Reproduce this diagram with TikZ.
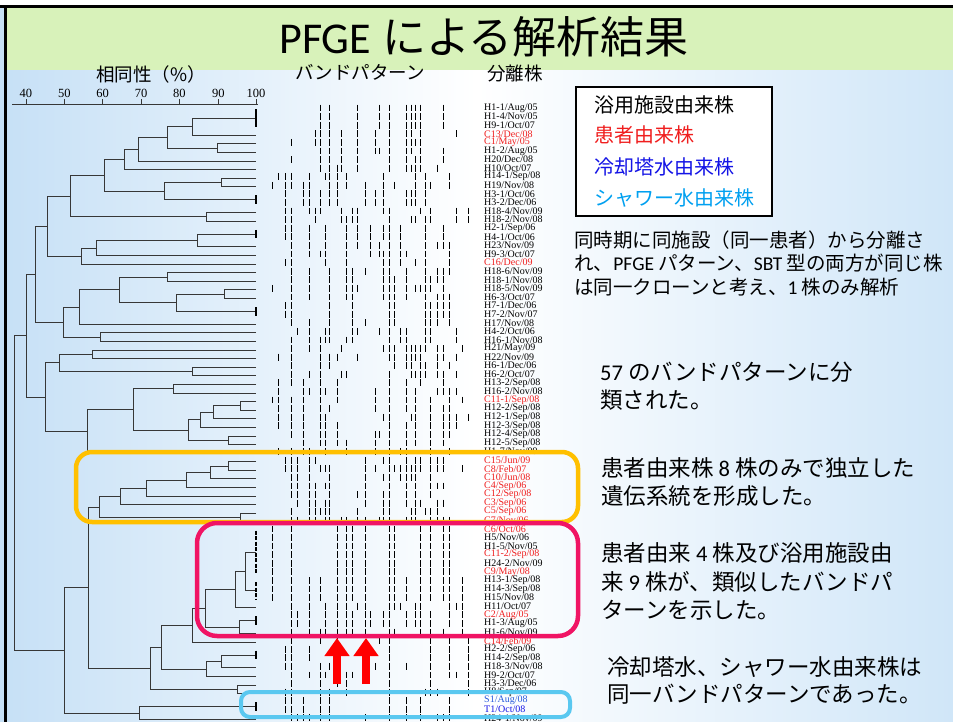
\documentclass[tikz,border=0pt]{standalone}
\usepackage{fontspec}
\setmainfont{Liberation Serif}
\newfontfamily\jp{Noto Sans CJK JP}
\newfontfamily\lat{Carlito}
\usetikzlibrary{arrows.meta}
\definecolor{labred}{RGB}{240,30,30}
\definecolor{ttblue}{RGB}{20,20,230}
\definecolor{shblue}{RGB}{0,160,240}
\definecolor{s1blue}{RGB}{40,90,220}
\definecolor{bgblue}{RGB}{198,224,246}
\definecolor{bgblueR}{RGB}{208,230,248}
\definecolor{titlegreen}{RGB}{216,242,186}
\definecolor{boxyellow}{RGB}{255,192,0}
\definecolor{boxpink}{RGB}{240,20,100}
\definecolor{boxcyan}{RGB}{90,200,240}
\definecolor{dendc}{RGB}{55,55,55}
\newcommand\hsh[2]{(sin((#1)*12.9898+(#2)*78.233)*43758.5453-floor(sin((#1)*12.9898+(#2)*78.233)*43758.5453))}
\newcommand\djn[5]{\draw[dend] (#2,#3) -- (#1,#3) -- (#1,#5) -- (#4,#5);}
\newcommand\redl{\color{labred}}
\newcommand\sbl{\color{s1blue}}
\newcommand\tbl{\color{ttblue}}
\begin{document}
\begin{tikzpicture}[x=1pt,y=-1pt,
  dend/.style={draw=dendc,line width=0.9pt},
  dtick/.style={draw=black,line width=1.6pt},
  band/.style={draw=black,line width=0.9pt},
  lab/.style={anchor=west,inner sep=0pt,font=\fontsize{10}{11}\selectfont},
  axl/.style={inner sep=0pt,font=\fontsize{12.5}{13}\selectfont},
  hdr/.style={inner sep=0pt,font=\jp\fontsize{18.5}{20}\selectfont},
  leg/.style={anchor=west,inner sep=0pt,font=\jp\fontsize{20}{22}\selectfont},
  smt/.style={anchor=west,inner sep=0pt,font=\jp\fontsize{19.5}{22}\selectfont},
  bigt/.style={anchor=west,inner sep=0pt,font=\jp\fontsize{22.5}{24}\selectfont},
  hbox/.style={line width=4.5pt,rounded corners=16pt},
  redarrow/.style={draw=red,line width=8pt,-{Triangle[width=24pt,length=18pt]}}
]
\useasboundingbox (0,0) rectangle (953,722);
% background
\shade[left color=bgblue,right color=bgblueR,middle color=white] (0,0) rectangle (953,722);
\fill[titlegreen] (7,8) rectangle (953,70);
\fill[white] (0,0) rectangle (953,5);
\fill[black] (0,5) rectangle (953,8);
\fill[black] (4,5) rectangle (7,722);

% title and headers
\node[font=\fontsize{44}{48}\selectfont,inner sep=0pt] (title) at (484,37) {{\lat PFGE} {\jp による解析結果}};
\node[hdr] (h1) at (151,74) {相同性（\%）};
\node[hdr] (h2) at (360,72.5) {バンドパターン};
\node[hdr] (h3) at (515,73.5) {分離株};

% axis
\draw[dend] (12,104.5) -- (258,104.5);
\foreach \v/\xx in {40/26,50/64.3,60/102.7,70/141,80/179.3,90/218.3,100/256}{
  \draw[dend] (\xx,99.5) -- (\xx,104.5);
  \node[axl] (ax\v) at (\xx,93.5) {\v};
}

% dendrogram
\djn{192.3}{256}{118.1}{256}{135.3}
\djn{217.3}{256}{143.9}{256}{152.5}
\djn{167.7}{192.3}{126.7}{217.3}{148.2}
\djn{138.3}{167.7}{137.45}{256}{161.0}
\djn{124.0}{138.3}{149.2}{256}{169.6}
\djn{221.3}{256}{178.2}{256}{186.8}
\djn{164.3}{221.3}{182.5}{256}{199.7}
\djn{104.3}{124}{159.4}{164.3}{191.1}
\djn{206.7}{256}{212.6}{256}{221.2}
\djn{70.7}{104.3}{175.25}{206.7}{216.9}
\djn{197.3}{256}{234.1}{256}{246.9}
\djn{96.7}{197.3}{240.5}{256}{255.5}
\djn{81.7}{96.7}{248.0}{256}{264.1}
\djn{47.7}{70.7}{196.1}{81.7}{256.05}
\djn{167.7}{256}{272.7}{256}{281.3}
\djn{224.7}{256}{289.9}{256}{298.5}
\djn{176.3}{224.7}{294.2}{256}{311.4}
\djn{119.0}{167.7}{277.0}{176.3}{302.8}
\djn{79.0}{119}{289.9}{256}{324.3}
\djn{100.0}{256}{332.9}{256}{341.4}
\djn{63.3}{79}{307.1}{100}{337.15}
\djn{35.0}{47.7}{226.1}{63.3}{322.1}
\djn{92.3}{256}{350.0}{256}{358.6}
\djn{192.3}{256}{367.2}{256}{375.8}
\djn{59.3}{92.3}{354.3}{192.3}{371.5}
\djn{173.3}{256}{384.4}{256}{393.0}
\djn{240.7}{256}{401.6}{256}{410.2}
\djn{213.3}{240.7}{405.9}{256}{418.8}
\djn{200.0}{213.3}{412.35}{256}{427.4}
\djn{228.7}{256}{436.0}{256}{444.5}
\djn{188.3}{200}{419.9}{228.7}{440.25}
\djn{133.3}{173.3}{388.7}{188.3}{430.1}
\djn{87.3}{133.3}{409.4}{256}{453.1}
\djn{45.7}{59.3}{362.9}{87.3}{431.25}
\djn{26.7}{35}{274.1}{45.7}{397.1}
\djn{228.7}{256}{461.7}{256}{470.3}
\djn{210.3}{228.7}{466.0}{256}{478.9}
\djn{186.3}{210.3}{472.45}{256}{487.5}
\djn{146.7}{186.3}{480.0}{256}{496.1}
\djn{120.0}{146.7}{488.05}{256}{504.7}
\djn{240.7}{256}{513.3}{256}{521.9}
\djn{99.3}{120}{496.4}{240.7}{517.6}
\djn{245.0}{256}{552.0}{256}{590.6}
\djn{235.7}{245}{571.3}{256}{607.8}
\djn{239.3}{256}{620.7}{256}{633.5}
\djn{205.7}{235.7}{589.55}{239.3}{627.1}
\djn{192.3}{205.7}{608.3}{256}{642.1}
\djn{221.3}{256}{655.0}{256}{667.9}
\djn{206.7}{221.3}{661.45}{256}{676.5}
\djn{161.3}{192.3}{625.2}{206.7}{669.0}
\djn{237.7}{256}{685.1}{256}{693.7}
\djn{150.7}{161.3}{647.1}{237.7}{689.4}
\djn{88.3}{99.3}{507.0}{150.7}{668.25}
\djn{139.3}{256}{706.6}{256}{719.5}
\djn{64.0}{88.3}{587.6}{139.3}{713.05}
\djn{14.0}{26.7}{335.6}{64}{650.3}
\foreach \a/\b in {109.5/126.7,195.4/204.0,229.8/238.4,307.1/315.7,616.4/625.0,650.7/659.3,702.3/710.9}
  \draw[dtick] (256,\a) -- (256,\b);
\draw[dtick,dash pattern=on 4pt off 1.5pt] (256,530.5) -- (256,573.4);
\draw[dtick,dash pattern=on 4pt off 1.5pt] (256,582) -- (256,599.2);

% band patterns
\foreach \ri/\clu/\rsd in {1/11/1,2/11/1,3/11/1,4/11/4,5/11/5,6/11/6,7/11/7,8/11/8,
  9/23/9,10/23/10,11/23/11,12/23/11,13/37/13,14/37/14,
  15/41/15,16/41/15,17/41/17,18/41/18,19/41/19,
  20/53/20,21/53/21,22/53/22,23/53/23,24/53/24,25/53/24,26/53/26,
  27/67/27,28/67/28,29/71/29,30/71/30,31/71/31,32/71/32,
  33/83/33,34/83/34,35/83/35,36/83/36,37/83/37,38/83/38,39/83/39,40/83/40,41/83/41,
  42/97/42,43/97/43,44/97/44,45/97/45,46/97/46,47/97/47,48/97/48,49/97/49,
  50/101/50,51/101/50,52/101/50,53/101/50,54/101/50,55/101/50,56/101/56,57/101/56,58/101/56,
  59/101/59,60/101/60,61/101/60,62/101/62,
  63/113/63,64/113/64,65/113/64,66/113/66,67/113/67,68/113/68,69/113/69,
  70/127/70,71/127/70,72/127/72}{
  \pgfmathsetmacro\yy{108+(\ri-1)*8.59}
  \foreach \bx/\bd [count=\j] in {272.7/.18,278/.12,285/.22,291/.65,297/.27,303/.22,309.3/.55,315/.22,
     320.3/.5,325/.22,329/.5,337/.42,341/.18,346.7/.5,352/.27,357/.45,365/.36,370/.18,375/.22,
     379/.25,383.3/.42,389.3/.88,394/.27,400/.22,406.7/.42,411/.34,415.3/.55,420.3/.55,425.7/.55,
     430.3/.45,437/.27,443.5/.45,449/.27,456/.36,462/.22,468/.16}{
    \ifnum\fpeval{((\hsh{\rsd+500}{\j} < 0.7) ? \hsh{\clu}{\j} : \hsh{\rsd}{\j}) < \bd}=1\relax
      \draw[band] (\bx,\yy-3.4) -- (\bx,\yy+3.4);
    \fi
  }
}
\foreach \ri in {50,...,62}{
  \pgfmathsetmacro\yy{108+(\ri-1)*8.59}
  \draw[band] (337,\yy-3.4) -- (337,\yy+3.4);
  \draw[band] (365,\yy-3.4) -- (365,\yy+3.4);
}

% isolate labels
\foreach \t [count=\i] in {H1-1/Aug/05,H1-4/Nov/05,H9-1/Oct/07,\redl C13/Dec/08,\redl C1/May/05,
  H1-2/Aug/05,H20/Dec/08,H10/Oct/07,H14-1/Sep/08,H19/Nov/08,H3-1/Oct/06,H3-2/Dec/06,
  H18-4/Nov/09,H18-2/Nov/08,H2-1/Sep/06,H4-1/Oct/06,H23/Nov/09,H9-3/Oct/07,\redl C16/Dec/09,
  H18-6/Nov/09,H18-1/Nov/08,H18-5/Nov/09,H6-3/Oct/07,H7-1/Dec/06,H7-2/Nov/07,H17/Nov/08,
  H4-2/Oct/06,H16-1/Nov/08,H21/May/09,H22/Nov/09,H6-1/Dec/06,H6-2/Oct/07,H13-2/Sep/08,
  H16-2/Nov/08,\redl C11-1/Sep/08,H12-2/Sep/08,H12-1/Sep/08,H12-3/Sep/08,H12-4/Sep/08,
  H12-5/Sep/08,H1-7/Nov/09,\redl C15/Jun/09,\redl C8/Feb/07,\redl C10/Jun/08,\redl C4/Sep/06,
  \redl C12/Sep/08,\redl C3/Sep/06,\redl C5/Sep/06,\redl C7/Nov/06,\redl C6/Oct/06,
  H5/Nov/06,H1-5/Nov/05,\redl C11-2/Sep/08,H24-2/Nov/09,\redl C9/May/08,H13-1/Sep/08,
  H14-3/Sep/08,H15/Nov/08,H11/Oct/07,\redl C2/Aug/05,H1-3/Aug/05,H1-6/Nov/09,\redl C14/Feb/09,
  H2-2/Sep/06,H14-2/Sep/08,H18-3/Nov/08,H9-2/Oct/07,H3-3/Dec/06,H8/Sep/07,\sbl S1/Aug/08,
  \tbl T1/Oct/08,H24-1/Nov/09}{
  \node[lab] (l\i) at (484,{108+(\i-1)*8.59}) {\t};
}

% highlight boxes
\draw[hbox,draw=boxyellow] (76,452) rectangle (578,522);
\draw[hbox,draw=boxpink,rounded corners=20pt] (197,523) rectangle (578,636);
\draw[hbox,draw=boxcyan,rounded corners=9pt,line width=4pt] (241,692) rectangle (570,717);

% red arrows
\coordinate (a1s) at (337,684);
\coordinate (a1e) at (337,638);
\coordinate (a2s) at (366,684);
\coordinate (a2e) at (366,638);
\draw[redarrow] (a1s) -- (a1e);
\draw[redarrow] (a2s) -- (a2e);

% legend
\draw[line width=1.2pt,fill=white] (576,87) rectangle (772,216);
\node[leg] (lg1) at (594,105) {浴用施設由来株};
\node[leg,text=labred] (lg2) at (594,135) {患者由来株};
\node[leg,text=ttblue] (lg3) at (594,167) {冷却塔水由来株};
\node[leg,text=shblue] (lg4) at (594,198) {シャワー水由来株};

% notes
\node[smt] (b1a) at (574,240) {同時期に同施設（同一患者）から分離さ};
\node[smt] (b1b) at (574,263) {れ、{\lat PFGE} パターン、{\lat SBT} 型の両方が同じ株};
\node[smt] (b1c) at (574,287) {は同一クローンと考え、{\lat 1} 株のみ解析};
\node[bigt] (b2a) at (600,372) {{\lat 57} のバンドパターンに分};
\node[bigt] (b2b) at (600,400) {類された。};
\node[bigt] (b3a) at (601,468) {患者由来株 {\lat 8} 株のみで独立した};
\node[bigt] (b3b) at (601,496) {遺伝系統を形成した。};
\node[bigt] (b4a) at (601,553) {患者由来 {\lat 4} 株及び浴用施設由};
\node[bigt] (b4b) at (601,582) {来 {\lat 9} 株が、類似したバンドパ};
\node[bigt] (b4c) at (601,610) {ターンを示した。};
\node[bigt] (b5a) at (607,667) {冷却塔水、シャワー水由来株は};
\node[bigt] (b5b) at (607,694) {同一バンドパターンであった。};
\end{tikzpicture}
\end{document}
